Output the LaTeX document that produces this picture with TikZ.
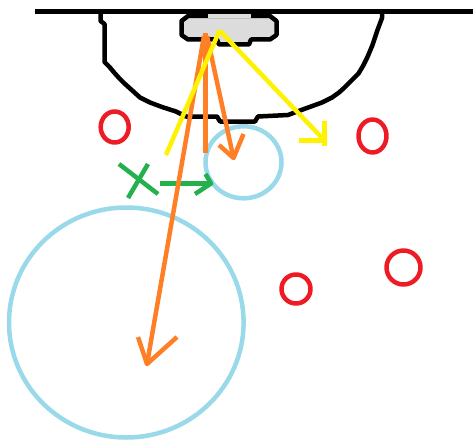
\documentclass[tikz,border=0pt]{standalone}
\definecolor{cblue}{HTML}{99D9EA}
\definecolor{cred}{HTML}{ED1C24}
\definecolor{corange}{HTML}{FF7F27}
\definecolor{cyellow}{HTML}{FFF200}
\definecolor{cgreen}{HTML}{22B14C}
\definecolor{cgray}{HTML}{DCDCDC}
\begin{document}
\begin{tikzpicture}[x=1pt,y=-1pt,line width=4.5pt,line join=round,
  blk/.style={draw=black},
  ring/.style={draw=cblue},
  spot/.style={draw=cred},
  gpen/.style={draw=cgreen},
  opath/.style={draw=corange},
  ypath/.style={draw=cyellow}]
\useasboundingbox (0,0) rectangle (473,441);
% top line and bowl
\draw[blk] (35,11.5) -- (473,11.5);
\draw[blk] (100.5,11.5) -- (100.5,21) -- (104.5,24) -- (104.5,62) -- (109.5,67) -- (114.5,73) -- (119.5,78.5) -- (124.5,83.5) -- (129.5,88) -- (134.5,92.5) -- (140,97.5) -- (150,102.5) -- (162,107) -- (176,111.5) -- (186,116.5) -- (217,116.5) -- (220,121.5) -- (255,121.5) -- (258,116.5) -- (288,115) -- (300,110.5) -- (311,106.5) -- (322,102.5) -- (332,97.5) -- (339,92.5) -- (344,88) -- (348.5,83.5) -- (353.5,78.5) -- (358.5,73.5) -- (363,66) -- (367.5,57) -- (372.5,45) -- (377.5,30) -- (382,18) -- (382,11.5);
% gray lid
\draw[blk,fill=cgray] (188,16) -- (270,16) -- (276.5,21) -- (276.5,35) -- (270,39.5) -- (251,39.5) -- (249,44.5) -- (219,44.5) -- (217,39.5) -- (188,39.5) -- (181.5,35) -- (181.5,21) -- cycle;
\fill[cgray] (208,13.8) rectangle (251,18.2);
% light blue circles
\draw[ring] (243.5,162.3) ellipse [x radius=38, y radius=36];
\draw[ring] (126.3,322.5) ellipse [x radius=117.3, y radius=115];
% red ovals
\draw[spot] (114.7,127) ellipse [x radius=14, y radius=15.5];
\draw[spot] (372.5,136) ellipse [x radius=14, y radius=16.5];
\draw[spot] (296,289) ellipse [x radius=14.5, y radius=14.5];
\draw[spot] (403.5,267.5) ellipse [x radius=17, y radius=17];
% green cross and arrow
\coordinate (g1) at (119,164); \coordinate (g2) at (158,194);
\coordinate (g3) at (148,164); \coordinate (g4) at (128,198);
\coordinate (gs) at (160,183.5); \coordinate (gt) at (211,183.5);
\draw[gpen] (g1) -- (g2);
\draw[gpen] (g3) -- (g4);
\draw[gpen] (gs) -- (gt);
\draw[gpen] (205.5,174) -- (gt) -- (195,194);
% orange arrows
\coordinate (oa) at (205.5,33); \coordinate (oae) at (205.5,153);
\coordinate (ob) at (204,36); \coordinate (obt) at (147,364);
\coordinate (oc) at (207,36); \coordinate (oct) at (233.5,158);
\draw[opath] (oa) -- (oae);
\draw[opath] (ob) -- (obt);
\draw[opath] (138,337) -- (obt) -- (177,337);
\draw[opath] (oc) -- (oct);
\draw[opath] (219,145) -- (oct) -- (243.5,134);
% yellow arrows
\coordinate (ys) at (219.5,30.5);
\coordinate (yt) at (324.5,140.5);
\coordinate (ye) at (166,155);
\draw[ypath] (ys) -- (yt);
\draw[ypath] (299,140.5) -- (yt);
\draw[ypath] (324.5,120.5) -- (324.5,146);
\draw[ypath] (ys) -- (ye);
\end{tikzpicture}
\end{document}
